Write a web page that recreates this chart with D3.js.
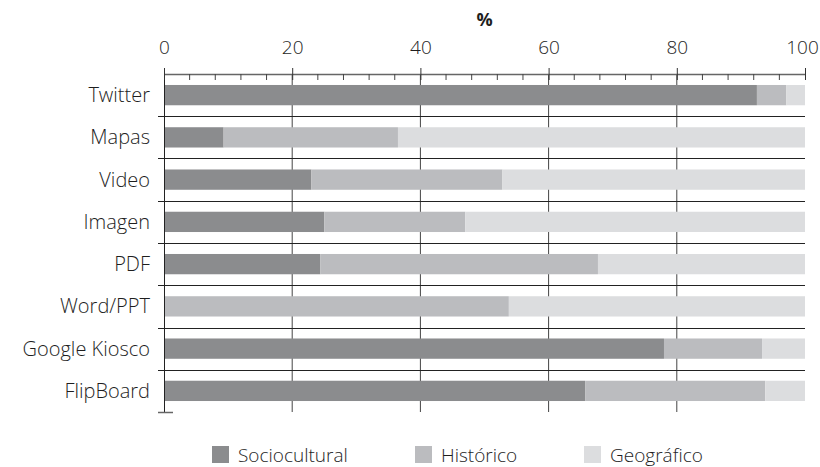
<!DOCTYPE html>
<html>
<head>
<meta charset="utf-8">
<script src="https://cdn.jsdelivr.net/npm/d3@7"></script>
<style>
  body { margin: 0; background: #fff; }
  svg text { font-family: "Open Sans", "Noto Sans", sans-serif; font-weight: 300; fill: #1e1e1e; }
</style>
</head>
<body>
<div id="chart"></div>
<script>
/* ── DATA ── */
const categories   = ['Twitter','Mapas','Video','Imagen','PDF','Word/PPT','Google Kiosco','FlipBoard'];
const seriesNames  = ['Sociocultural','Histórico','Geográfico'];
const sociocultural = [92.5, 9.3, 23.0, 25.0, 24.4, 0, 78.0, 65.7];
const historico     = [4.6, 27.2, 29.8, 22.0, 43.3, 53.8, 15.3, 28.1];
const geografico    = [2.9, 63.5, 47.2, 53.0, 32.3, 46.2, 6.7, 6.2];
const majorTicks    = [0, 20, 40, 60, 80, 100];
const minorTicks    = [4, 8, 12, 16, 24, 28, 32, 36, 44, 48, 52, 56, 64, 68, 72, 76, 84, 88, 92, 96];
const gridTicks     = [20, 40, 60, 80];

const COLORS = ['#8b8c8e', '#bbbcbf', '#dcdddf'];

const W = 820, H = 467;
const mL = 164, mR = 805, mT = 74, mB = 412;

const svg = d3.select('#chart').append('svg').attr('width', W).attr('height', H);

const x = d3.scaleLinear().domain([0, 100]).range([mL, mR]);
const y = d3.scaleBand().domain(categories).range([mT, mB]).paddingInner(0.52).paddingOuter(0.26);
const step = y.step();
const gap  = (step - y.bandwidth()) / 2;

const rows = categories.map((c, i) => ({ cat: c, vals: [sociocultural[i], historico[i], geografico[i]] }));
const stacked = d3.stack().keys([0, 1, 2]).value((d, k) => d.vals[k])(rows);

// vertical grid
svg.append('g').selectAll('line').data(gridTicks).enter().append('line')
  .attr('x1', d => x(d)).attr('x2', d => x(d))
  .attr('y1', mT).attr('y2', mB)
  .attr('stroke', '#444').attr('stroke-width', 1);

// row separators
svg.append('g').selectAll('line').data(categories.slice(1)).enter().append('line')
  .attr('x1', mL - 6).attr('x2', mR)
  .attr('y1', d => Math.round(y(d) - gap) + 0.5)
  .attr('y2', d => Math.round(y(d) - gap) + 0.5)
  .attr('stroke', '#222').attr('stroke-width', 1);

// bars
stacked.forEach((layer, k) => {
  svg.append('g').selectAll('rect').data(layer).enter().append('rect')
    .attr('x', d => x(d[0]))
    .attr('y', d => y(d.data.cat))
    .attr('width', d => x(d[1]) - x(d[0]))
    .attr('height', y.bandwidth())
    .attr('fill', COLORS[k]);
});

// left axis line + bottom stub
svg.append('line').attr('x1', mL + 0.5).attr('x2', mL + 0.5).attr('y1', mT).attr('y2', mB)
  .attr('stroke', '#222').attr('stroke-width', 1);
svg.append('line').attr('x1', mL - 6).attr('x2', mL + 9).attr('y1', mB + 0.5).attr('y2', mB + 0.5)
  .attr('stroke', '#666').attr('stroke-width', 1.5);

// top axis
const axisG = svg.append('g').attr('transform', `translate(0,${mT})`);
axisG.call(d3.axisTop(x).tickValues(majorTicks).tickSize(6).tickPadding(14))
  .call(g => g.select('.domain').attr('stroke', '#666').attr('stroke-width', 1.5).attr('d', `M${mL},0.5H${mR}`))
  .call(g => g.selectAll('.tick line').attr('stroke', '#333').attr('y1', 6).attr('y2', -6))
  .call(g => g.selectAll('.tick text').attr('font-size', 19).attr('fill', '#1e1e1e')
    .attr('font-family', '"Open Sans", sans-serif').attr('dx', d => d === 100 ? -3 : 0));
axisG.selectAll('.minor').data(minorTicks).enter().append('line')
  .attr('x1', d => x(d)).attr('x2', d => x(d)).attr('y1', 0).attr('y2', 6)
  .attr('stroke', '#444').attr('stroke-width', 1);

// axis title
svg.append('text').attr('x', x(50)).attr('y', 26).attr('text-anchor', 'middle')
  .attr('font-size', 18).style('font-weight', 'bold').text('%');

// category labels
svg.append('g').selectAll('text').data(categories).enter().append('text')
  .attr('x', 150).attr('y', d => y(d) + y.bandwidth() / 2)
  .attr('dy', '0.35em').attr('text-anchor', 'end')
  .attr('font-size', 20).text(d => d);

// legend
const legendX = [212, 415, 584];
const lg = svg.append('g');
seriesNames.forEach((n, i) => {
  lg.append('rect').attr('x', legendX[i]).attr('y', 446).attr('width', 17).attr('height', 17).attr('fill', COLORS[i]);
  lg.append('text').attr('x', legendX[i] + 26).attr('y', 462).attr('font-size', 19).text(n);
});
</script>
</body>
</html>
